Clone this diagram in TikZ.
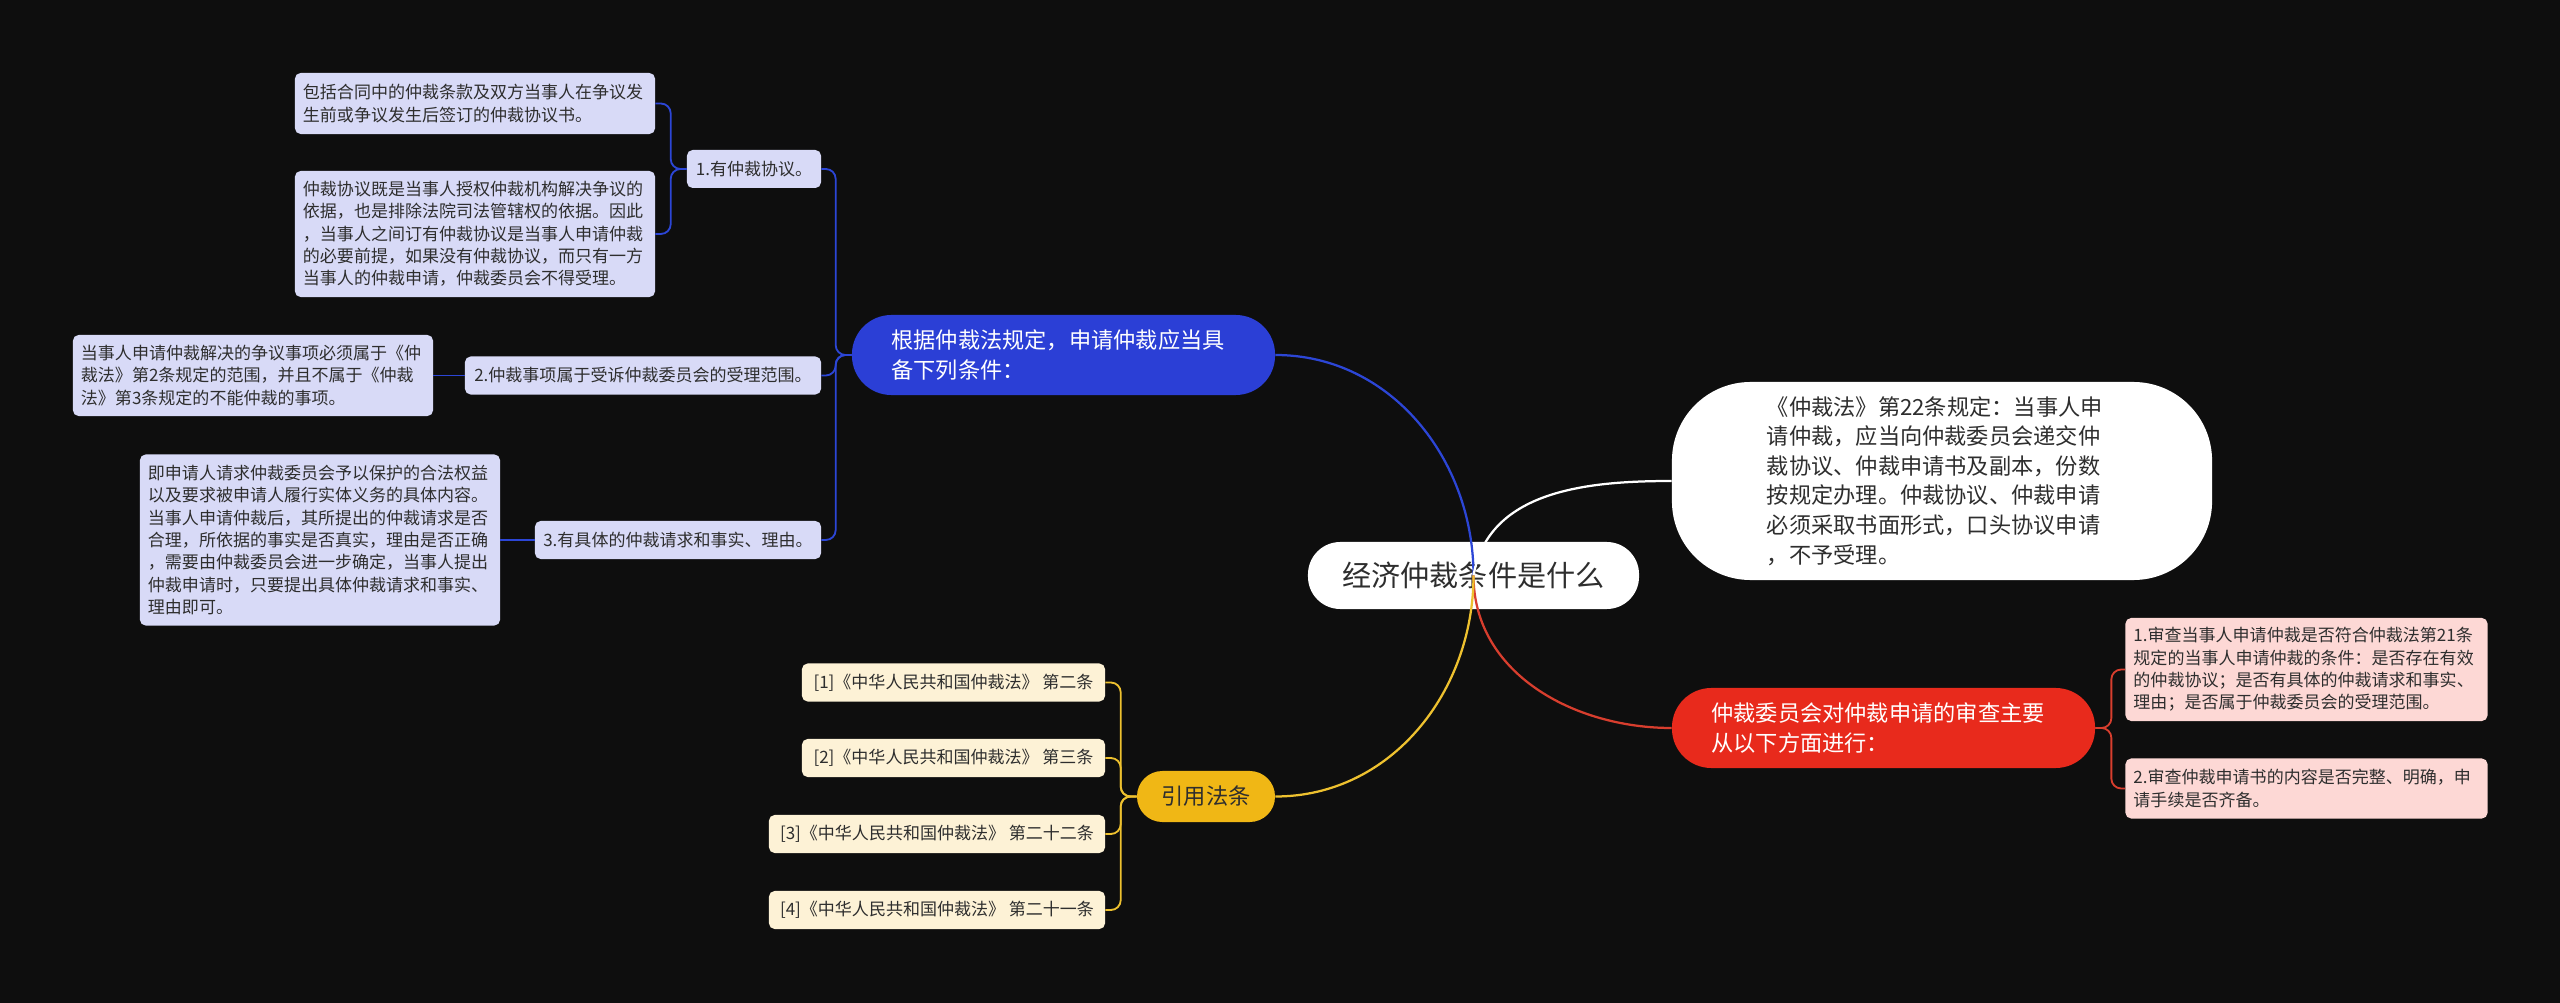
\documentclass[tikz,border=0pt]{standalone}
\usepackage{fontspec}
\setmainfont{Noto Sans CJK SC}

\definecolor{bgc}{HTML}{0E0E0E}
\definecolor{inkc}{HTML}{2E2E2E}
\definecolor{bluec}{HTML}{2B3FD6}
\definecolor{bluelink}{HTML}{2C46D6}
\definecolor{blueleaf}{HTML}{D8DAF7}
\definecolor{redc}{HTML}{E82A1C}
\definecolor{redlink}{HTML}{D83E2E}
\definecolor{redleaf}{HTML}{FDD8D5}
\definecolor{yellowc}{HTML}{F0B715}
\definecolor{yellowlink}{HTML}{EEC12F}
\definecolor{yellowleaf}{HTML}{FDF2D6}

\newcommand{\leaffont}{\fontsize{12.1pt}{15.9pt}\selectfont}
\newcommand{\topicfont}{\fontsize{15.8pt}{21pt}\selectfont}
\newcommand{\rootfont}{\fontsize{20.7pt}{24pt}\selectfont}

\begin{document}
\begin{tikzpicture}[
    x=0.025cm, y=0.025cm,
    rootbox/.style={fill=white, rounded corners=23pt, minimum width=8.275cm, minimum height=1.675cm, inner sep=0pt, text=inkc, font=\rootfont},
    topic/.style={rounded corners=28pt, minimum width=10.575cm, minimum height=2cm, text width=8.6cm, align=left, inner sep=0pt, text=white, font=\topicfont},
    leaf/.style={rounded corners=4pt, minimum width=9cm, text width=8.6cm, align=left, inner sep=0pt, text=inkc, font=\leaffont},
    tag/.style={rounded corners=4pt, minimum height=0.95cm, align=center, inner sep=0pt, text=inkc, font=\leaffont},
    link/.style={line width=1.6pt},
    twig/.style={line width=1.3pt, rounded corners=7pt},
  ]
  \useasboundingbox (0,0) rectangle (2560,-1003);
  \fill[bgc] (0,0) rectangle (2560,-1003);

  % centre
  \node[rootbox] (root) at (1473.5,-575.5) {经济仲裁条件是什么};

  % conditions branch (blue)
  \node[topic, fill=bluec] (cond) at (1063.5,-355) {根据仲裁法规定，申请仲裁应当具\\备下列条件：};
  \node[tag, fill=blueleaf, minimum width=3.35cm] (c1) at (754,-169) {1.有仲裁协议。};
  \node[tag, fill=blueleaf, minimum width=8.9cm] (c2) at (643,-375.5) {2.仲裁事项属于受诉仲裁委员会的受理范围。};
  \node[tag, fill=blueleaf, minimum width=7.15cm] (c3) at (678,-540) {3.有具体的仲裁请求和事实、理由。};
  \node[leaf, fill=blueleaf, minimum height=1.525cm] (a1) at (475,-103.5) {包括合同中的仲裁条款及双方当事人在争议发\\生前或争议发生后签订的仲裁协议书。};
  \node[leaf, fill=blueleaf, minimum height=3.15cm] (a2) at (475,-234) {仲裁协议既是当事人授权仲裁机构解决争议的\\依据，也是排除法院司法管辖权的依据。因此\\，当事人之间订有仲裁协议是当事人申请仲裁\\的必要前提，如果没有仲裁协议，而只有一方\\当事人的仲裁申请，仲裁委员会不得受理。};
  \node[leaf, fill=blueleaf, minimum height=2.025cm] (b1) at (253,-375.5) {当事人申请仲裁解决的争议事项必须属于《仲\\裁法》第2条规定的范围，并且不属于《仲裁\\法》第3条规定的不能仲裁的事项。};
  \node[leaf, fill=blueleaf, minimum height=4.275cm] (d1) at (320,-540) {即申请人请求仲裁委员会予以保护的合法权益\\以及要求被申请人履行实体义务的具体内容。\\当事人申请仲裁后，其所提出的仲裁请求是否\\合理，所依据的事实是否真实，理由是否正确\\，需要由仲裁委员会进一步确定，当事人提出\\仲裁申请时，只要提出具体仲裁请求和事实、\\理由即可。};

  % article 22 (white)
  \node[fill=white, rounded corners=56pt, minimum width=13.5cm, minimum height=4.95cm, text width=8.75cm, align=left, inner sep=0pt, text=inkc, font=\topicfont] (rule) at (1942,-481) {《仲裁法》第22条规定：当事人申\\请仲裁，应当向仲裁委员会递交仲\\裁协议、仲裁申请书及副本，份数\\按规定办理。仲裁协议、仲裁申请\\必须采取书面形式，口头协议申请\\，不予受理。};

  % review branch (red)
  \node[topic, fill=redc] (review) at (1883.5,-728) {仲裁委员会对仲裁申请的审查主要\\从以下方面进行：};
  \node[leaf, fill=redleaf, minimum width=9.05cm, text width=8.65cm, minimum height=2.575cm] (r1) at (2306.5,-669.5) {1.审查当事人申请仲裁是否符合仲裁法第21条\\规定的当事人申请仲裁的条件：是否存在有效\\的仲裁协议；是否有具体的仲裁请求和事实、\\理由；是否属于仲裁委员会的受理范围。};
  \node[leaf, fill=redleaf, minimum width=9.05cm, text width=8.65cm, minimum height=1.5cm] (r2) at (2306.5,-788.5) {2.审查仲裁申请书的内容是否完整、明确，申\\请手续是否齐备。};

  % cited articles (yellow)
  \node[fill=yellowc, rounded corners=18pt, minimum width=3.45cm, minimum height=1.275cm, inner sep=0pt, text=inkc, font=\topicfont] (cite) at (1206,-796.5) {引用法条};
  \node[tag, fill=yellowleaf, minimum width=7.575cm] (y1) at (953.5,-682.5) {[1]《中华人民共和国仲裁法》 第二条};
  \node[tag, fill=yellowleaf, minimum width=7.575cm] (y2) at (953.5,-758) {[2]《中华人民共和国仲裁法》 第三条};
  \node[tag, fill=yellowleaf, minimum width=8.4cm] (y3) at (937,-834) {[3]《中华人民共和国仲裁法》 第二十二条};
  \node[tag, fill=yellowleaf, minimum width=8.4cm] (y4) at (937,-910) {[4]《中华人民共和国仲裁法》 第二十一条};

  % main links
  \draw[link, bluelink] (root.center) to[out=90,in=0] (cond.east);
  \draw[link, white] (root.center) to[out=80,in=180] (rule.west);
  \draw[link, redlink] (root.center) to[out=-90,in=180] (review.west);
  \draw[link, yellowlink] (root.center) to[out=-90,in=0] (cite.east);

  % sub links
  \draw[twig, bluelink] (cond.west) -- ++(-16,0) |- (c1.east);
  \draw[twig, bluelink] (cond.west) -- ++(-16,0) |- (c2.east);
  \draw[twig, bluelink] (cond.west) -- ++(-16,0) |- (c3.east);
  \draw[twig, bluelink] (c1.west) -- ++(-16,0) |- (a1.east);
  \draw[twig, bluelink] (c1.west) -- ++(-16,0) |- (a2.east);
  \draw[twig, bluelink] (c2.west) -- (b1.east);
  \draw[twig, bluelink] (c3.west) -- (d1.east);
  \draw[twig, redlink] (review.east) -- ++(16,0) |- (r1.west);
  \draw[twig, redlink] (review.east) -- ++(16,0) |- (r2.west);
  \foreach \y in {y1,y2,y3,y4}
    \draw[twig, yellowlink] (cite.west) -- ++(-16,0) |- (\y.east);
\end{tikzpicture}
\end{document}
